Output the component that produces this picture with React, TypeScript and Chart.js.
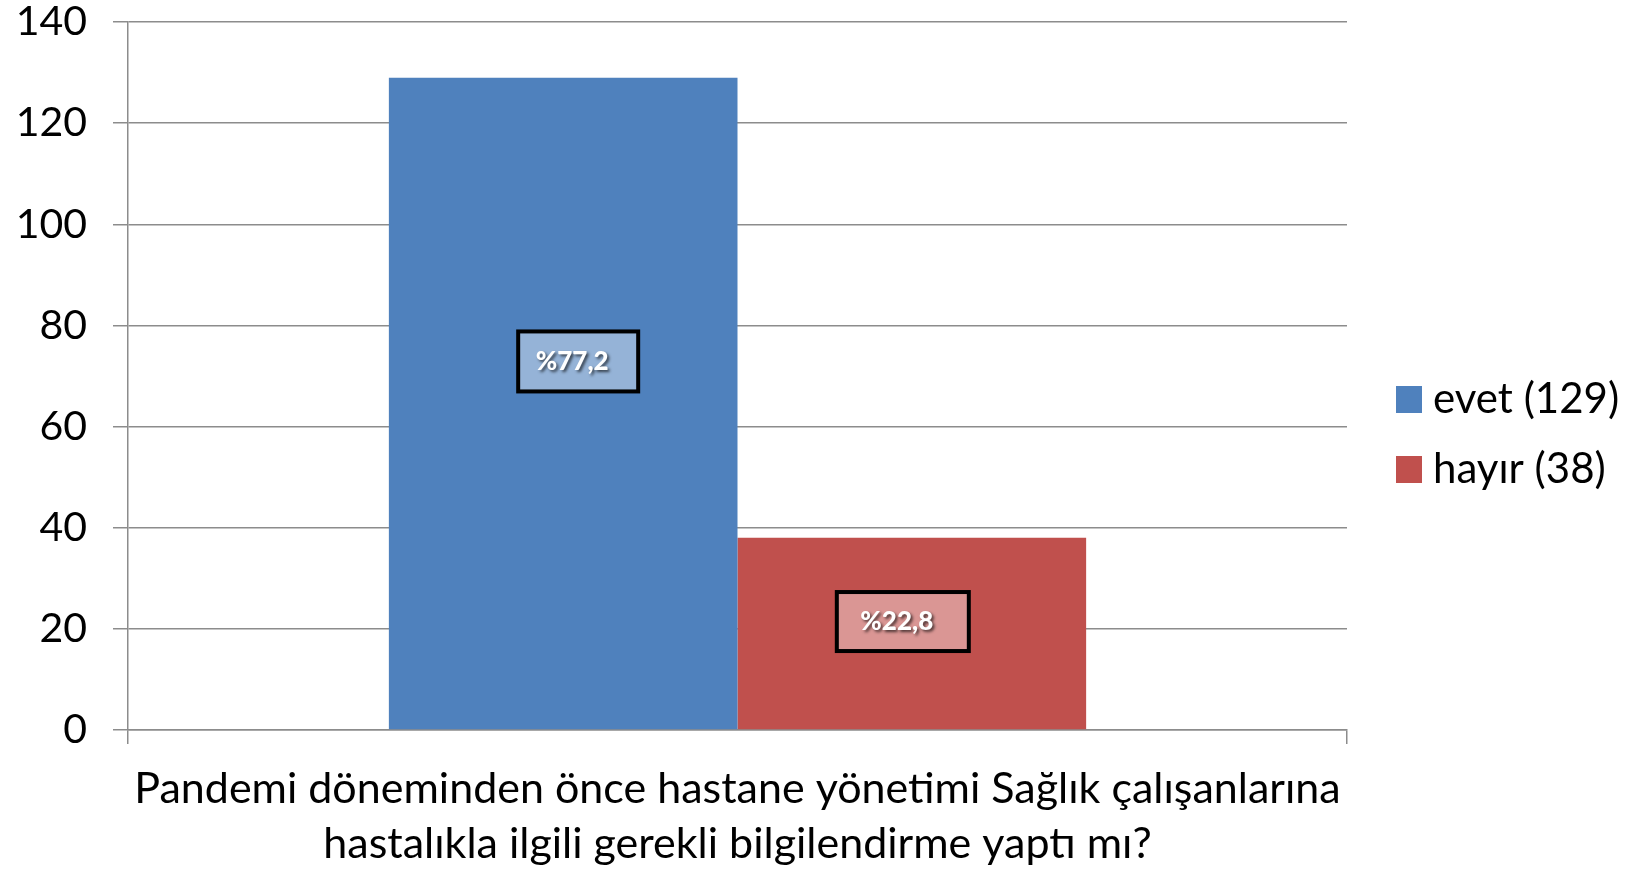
import React, { useEffect, useRef } from "react";
import { Chart, registerables } from "chart.js";

Chart.register(...registerables);

const categories = [
  [
    "Pandemi döneminden önce hastane yönetimi Sağlık çalışanlarına",
    "hastalıkla ilgili gerekli bilgilendirme yaptı mı?",
  ],
];
const seriesNames = ["evet (129)", "hayır (38)"];
const evetValues = [129];
const hayirValues = [38];
const percentLabels = ["%77,2", "%22,8"];
const yMin = 0;
const yMax = 140;
const yStep = 20;

const barColors = ["#4F81BD", "#C0504D"];
const labelFills = ["#95B3D7", "#DA9694"];
const FONT = "Lato, 'Open Sans', sans-serif";
const GRID = "#8c8c8c";

// label box placement relative to bar centre (as positioned in the original)
const labelOffsets = [
  { dx: 15, dy: -42, w: 120, h: 60 },
  { dx: -9, dy: -12, w: 132, h: 59 },
];

const dataLabelPlugin = {
  id: "boxedLabels",
  afterDatasetsDraw(chart: any) {
    const ctx = chart.ctx;
    chart.data.datasets.forEach((ds: any, i: number) => {
      const meta = chart.getDatasetMeta(i);
      const el = meta.data[0];
      if (!el) return;
      const o = labelOffsets[i];
      const cx = el.x + o.dx;
      const cy = (el.y + el.base) / 2 + o.dy;
      ctx.save();
      ctx.fillStyle = labelFills[i];
      ctx.fillRect(cx - o.w / 2, cy - o.h / 2, o.w, o.h);
      ctx.lineWidth = 4;
      ctx.strokeStyle = "#000";
      ctx.strokeRect(cx - o.w / 2, cy - o.h / 2, o.w, o.h);
      ctx.font = `900 26px ${FONT}`;
      ctx.textAlign = "center";
      ctx.textBaseline = "middle";
      ctx.shadowColor = "rgba(0,0,0,0.65)";
      ctx.shadowBlur = 3;
      ctx.shadowOffsetX = 2;
      ctx.shadowOffsetY = 2;
      ctx.fillStyle = "#fff";
      ctx.fillText(percentLabels[i], cx - 6, cy);
      ctx.restore();
    });
  },
};

const legendPlugin = {
  id: "sideLegend",
  afterDraw(chart: any) {
    const ctx = chart.ctx;
    const area = chart.chartArea;
    const x0 = area.right + 49;
    const y0 = area.top + 377;
    ctx.save();
    chart.data.datasets.forEach((ds: any, i: number) => {
      const y = y0 + i * 70;
      ctx.fillStyle = ds.backgroundColor;
      ctx.fillRect(x0, y - 13, 26, 27);
      ctx.fillStyle = "#000";
      ctx.font = `42px ${FONT}`;
      ctx.textAlign = "left";
      ctx.textBaseline = "middle";
      ctx.fillText(ds.label, x0 + 37, y);
    });
    ctx.restore();
  },
};

export default function App() {
  const ref = useRef<HTMLCanvasElement | null>(null);
  useEffect(() => {
    if (!ref.current) return;
    const chart = new Chart(ref.current, {
      type: "bar",
      data: {
        labels: categories as any,
        datasets: [
          {
            label: seriesNames[0],
            data: evetValues,
            backgroundColor: barColors[0],
            categoryPercentage: 0.572,
            barPercentage: 1,
          },
          {
            label: seriesNames[1],
            data: hayirValues,
            backgroundColor: barColors[1],
            categoryPercentage: 0.572,
            barPercentage: 1,
          },
        ],
      },
      options: {
        responsive: false,
        animation: false,
        layout: { padding: { left: 0, right: 279, top: 22, bottom: 0 } },
        plugins: {
          legend: { display: false },
          tooltip: { enabled: false },
          title: { display: false },
        },
        scales: {
          x: {
            afterFit: (s: any) => {
              s.height = 139;
              s.paddingLeft = 0;
              s.paddingRight = 0;
            },
            grid: {
              drawOnChartArea: false,
              drawTicks: true,
              tickLength: 14,
              color: GRID,
              lineWidth: 1.5,
              offset: true,
            },
            border: { display: true, color: GRID, width: 1.5 },
            ticks: {
              color: "#000",
              padding: 18,
              maxRotation: 0,
              autoSkip: false,
              font: { family: FONT, size: 43, lineHeight: "55px" as any },
            },
          },
          y: {
            min: yMin,
            max: yMax,
            afterFit: (s: any) => {
              s.width = 128;
              s.paddingTop = 0;
              s.paddingBottom = 0;
            },
            grid: {
              color: GRID,
              lineWidth: 1.5,
              drawTicks: true,
              tickLength: 15,
            },
            border: { display: true, color: GRID, width: 1.5 },
            ticks: {
              stepSize: yStep,
              color: "#000",
              padding: 26,
              font: { family: FONT, size: 41 },
            },
          },
        },
      },
      plugins: [dataLabelPlugin, legendPlugin],
    });
    return () => chart.destroy();
  }, []);
  return (
    <div style={{ position: "fixed", left: 0, top: 0, width: 1626, height: 869, background: "#fff" }}>
      <canvas ref={ref} width={1626} height={869} style={{ display: "block" }} />
    </div>
  );
}
